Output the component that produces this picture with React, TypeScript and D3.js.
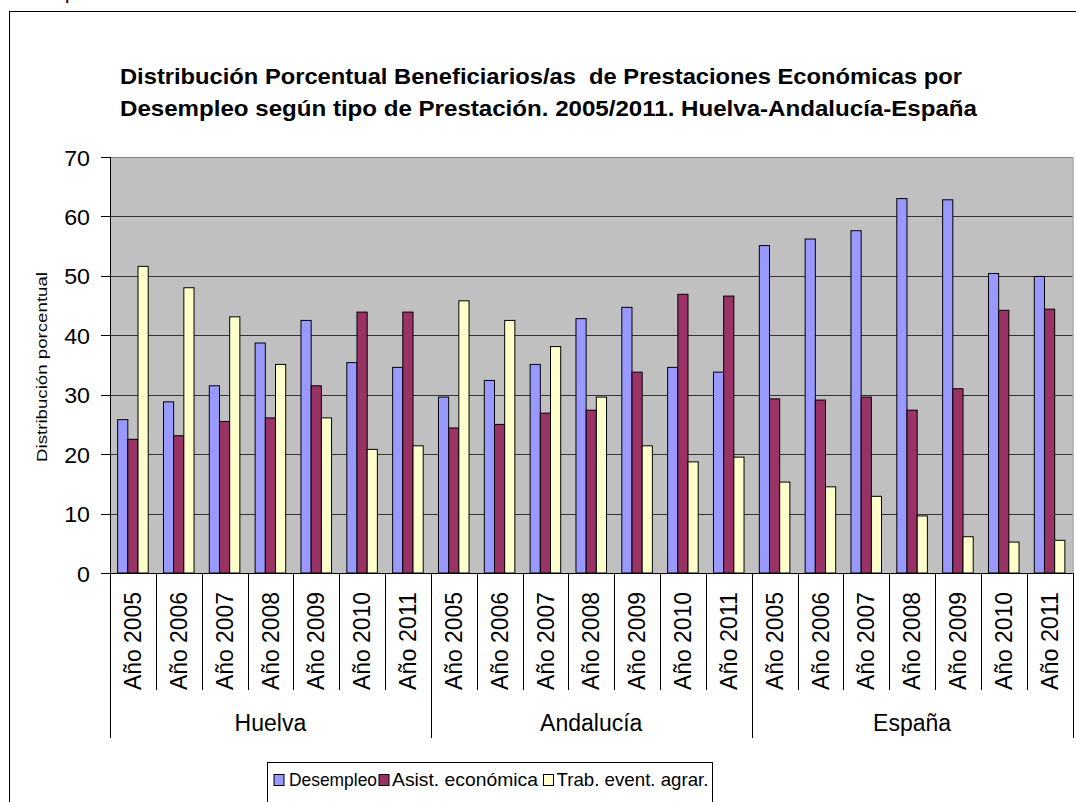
import React from "react";
import * as d3 from "d3";

const regions = ["Huelva", "Andalucía", "España"];
const years = ["Año 2005", "Año 2006", "Año 2007", "Año 2008", "Año 2009", "Año 2010", "Año 2011"];
const seriesNames = ["Desempleo", "Asist. económica", "Trab. event. agrar."];
const seriesColors = ["#9999FF", "#993366", "#FFFFCC"];

const desempleo = [25.8, 28.8, 31.5, 38.7, 42.5, 35.4, 34.6, 29.6, 32.4, 35.1, 42.8, 44.7, 34.6, 33.8, 55.1, 56.2, 57.6, 63.0, 62.8, 50.4, 49.9];
const asistEconomica = [22.5, 23.1, 25.5, 26.1, 31.5, 43.9, 43.9, 24.4, 25.0, 26.9, 27.4, 33.8, 46.9, 46.6, 29.3, 29.1, 29.6, 27.4, 31.0, 44.2, 44.4];
const trabEventAgrar = [51.6, 48.0, 43.1, 35.1, 26.1, 20.8, 21.4, 45.8, 42.5, 38.1, 29.6, 21.4, 18.7, 19.5, 15.3, 14.5, 12.9, 9.6, 6.1, 5.2, 5.5];
const yTicks = [0, 10, 20, 30, 40, 50, 60, 70];

const titleLines = [
  "Distribución Porcentual Beneficiarios/as  de Prestaciones Económicas por",
  "Desempleo según tipo de Prestación. 2005/2011. Huelva-Andalucía-España",
];

const FONT = "Arial, 'Liberation Sans', Arimo, sans-serif";

export default function App() {
  const W = 1076, H = 802;
  const plot = { left: 110, right: 1072.5, top: 157, bottom: 573 };
  const cats = regions.flatMap((r) => years.map((y) => `${r}|${y}`));
  const x = d3.scaleBand<string>().domain(cats).range([plot.left, plot.right]).padding(0);
  const bw = x.bandwidth();
  const barW = bw / 4.5;
  const x1 = d3.scaleBand<number>().domain([0, 1, 2]).range([barW * 0.75, bw - barW * 0.75]).padding(0);
  const y = d3.scaleLinear().domain([0, 70]).range([plot.bottom, plot.top]);
  const series = [desempleo, asistEconomica, trabEventAgrar];

  const groupEdges = regions.map((r) => x(`${r}|${years[0]}`)!).concat([plot.right]);

  const legendItems = [
    { sx: 273.5, tx: 289, tl: 88 },
    { sx: 378.5, tx: 392, tl: 146 },
    { sx: 543, tx: 556.5, tl: 152 },
  ];

  return (
    <svg width={W} height={H} style={{ position: "absolute", left: 0, top: 0, background: "#fff", fontFamily: FONT }}>
      <rect x={0} y={0} width={W} height={H} fill="#fff" />
      <text x={65} y={-1} fontSize={20} fill="#000">p</text>
      {/* chart border */}
      <rect x={9.5} y={11.5} width={1200} height={1000} fill="none" stroke="#000" strokeWidth={1} />
      {/* title */}
      {titleLines.map((t, i) => (
        <text key={i} x={120} y={84 + i * 32} fontSize={22.5} fontWeight="bold" fill="#000"
          style={{ whiteSpace: "pre" }}
          textLength={i === 0 ? 842 : 857} lengthAdjust="spacingAndGlyphs">{t}</text>
      ))}
      {/* plot area */}
      <rect x={plot.left} y={plot.top} width={plot.right - plot.left} height={plot.bottom - plot.top} fill="#C0C0C0" />
      {yTicks.map((t) => (
        <line key={t} x1={plot.left} x2={plot.right} y1={Math.round(y(t)) + 0.5} y2={Math.round(y(t)) + 0.5}
          stroke={t === 70 ? "#808080" : "#333"} strokeWidth={1} />
      ))}
      <line x1={plot.right + 0.5} x2={plot.right + 0.5} y1={plot.top} y2={plot.bottom} stroke="#808080" />
      {/* bars */}
      {cats.map((c, i) =>
        series.map((s, k) => (
          <rect key={`${c}-${k}`} x={x(c)! + x1(k)!} y={y(s[i])} width={x1.bandwidth()} height={y(0) - y(s[i])}
            fill={seriesColors[k]} stroke="#000" strokeWidth={1} />
        ))
      )}
      {/* y axis */}
      <line x1={plot.left + 0.5} x2={plot.left + 0.5} y1={plot.top} y2={738} stroke="#000" />
      {yTicks.map((t) => (
        <g key={t}>
          <line x1={101} x2={plot.left} y1={Math.round(y(t)) + 0.5} y2={Math.round(y(t)) + 0.5} stroke="#000" />
          <text x={90} y={y(t) + 8.5} fontSize={22.5} textAnchor="end" fill="#000"
            textLength={String(t).length * 12.9} lengthAdjust="spacingAndGlyphs">{t}</text>
        </g>
      ))}
      <text transform={`translate(47,367) rotate(-90)`} fontSize={15.5} textAnchor="middle" fill="#000"
        textLength={190} lengthAdjust="spacingAndGlyphs">Distribución porcentual</text>
      {/* x axis */}
      <line x1={plot.left} x2={plot.right} y1={plot.bottom + 0.5} y2={plot.bottom + 0.5} stroke="#000" />
      {cats.map((c, i) => (
        <g key={c}>
          {i % years.length !== 0 && (
            <line x1={Math.round(x(c)!) + 0.5} x2={Math.round(x(c)!) + 0.5} y1={plot.bottom} y2={690} stroke="#000" />
          )}
          <text transform={`translate(${x(c)! + bw / 2},690) rotate(-90)`} y={8.2} fontSize={23} fill="#000"
            textLength={98} lengthAdjust="spacingAndGlyphs">{c.split("|")[1]}</text>
        </g>
      ))}
      {groupEdges.map((gx, i) => (
        <line key={i} x1={Math.round(gx) + 0.5} x2={Math.round(gx) + 0.5} y1={plot.bottom} y2={738} stroke="#000" />
      ))}
      {regions.map((r, i) => (
        <text key={r} x={(groupEdges[i] + groupEdges[i + 1]) / 2} y={731} fontSize={23} textAnchor="middle" fill="#000">{r}</text>
      ))}
      {/* legend */}
      <rect x={267.5} y={762.5} width={445} height={60} fill="#fff" stroke="#000" />
      {seriesNames.map((n, k) => (
        <g key={n}>
          <rect x={legendItems[k].sx + 0.5} y={774.5} width={10} height={11} fill={seriesColors[k]} stroke="#000" />
          <text x={legendItems[k].tx} y={786} fontSize={19} fill="#000"
            textLength={legendItems[k].tl} lengthAdjust="spacingAndGlyphs">{n}</text>
        </g>
      ))}
    </svg>
  );
}
